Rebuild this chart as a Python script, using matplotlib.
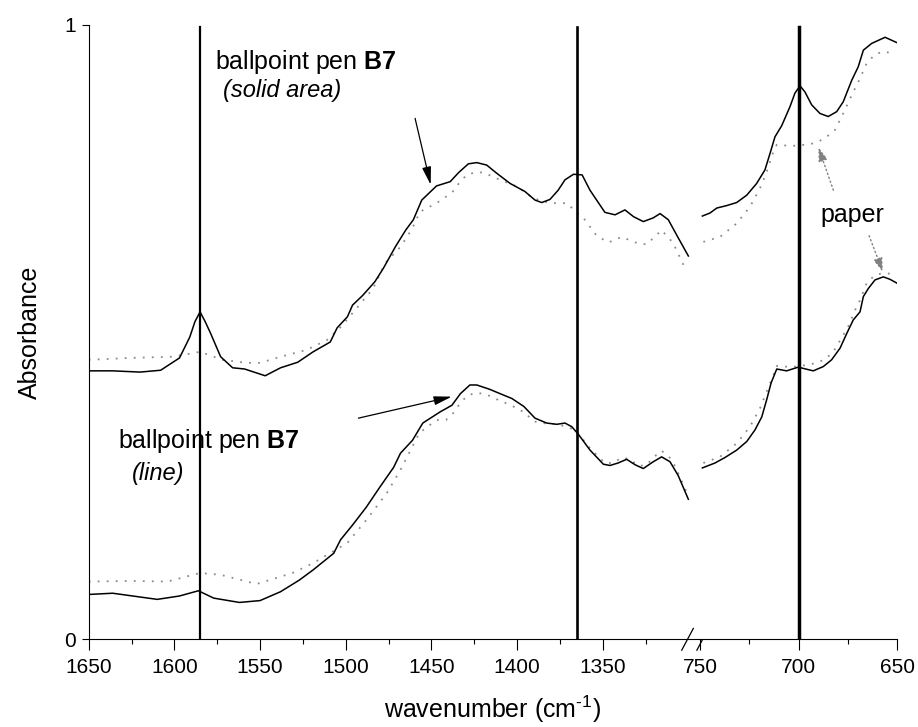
import matplotlib
matplotlib.use("Agg")
import matplotlib.pyplot as plt

plt.rcParams['font.family'] = ['Liberation Sans', 'DejaVu Sans']
plt.rcParams['mathtext.fontset'] = 'custom'
plt.rcParams['mathtext.rm'] = 'Liberation Sans'
plt.rcParams['mathtext.it'] = 'Liberation Sans:italic'
plt.rcParams['mathtext.bf'] = 'Liberation Sans:bold'
plt.rcParams['mathtext.default'] = 'regular'

# ---- data: left part of the broken axis (1650 - 1300 cm-1) ----
solid_left_wn = [1650, 1636, 1620, 1608, 1597, 1591, 1588, 1585, 1582, 1579, 1573, 1566, 1559,
                 1547, 1538, 1528, 1519, 1509, 1505, 1499, 1496, 1490, 1483, 1478, 1471,
                 1465, 1460.5, 1455.6, 1447, 1439, 1434, 1428.4, 1423.5, 1417.7, 1412, 1404,
                 1395.4, 1389.5, 1385.6, 1380.8, 1376, 1372, 1367, 1362, 1357.4, 1348.7,
                 1342.8, 1337, 1332, 1326.3, 1320.5, 1316.5, 1311.7, 1306, 1300]
solid_left_ab = [0.437, 0.437, 0.435, 0.438, 0.458, 0.492, 0.517, 0.533, 0.517, 0.499, 0.460,
                 0.442, 0.440, 0.429, 0.442, 0.451, 0.468, 0.484, 0.507, 0.525, 0.544, 0.560,
                 0.582, 0.604, 0.639, 0.666, 0.683, 0.715, 0.738, 0.745, 0.760, 0.774, 0.776,
                 0.772, 0.759, 0.742, 0.729, 0.715, 0.711, 0.716, 0.731, 0.748, 0.757, 0.756,
                 0.731, 0.695, 0.691, 0.699, 0.688, 0.680, 0.686, 0.693, 0.683, 0.654, 0.624]

solid_paper_left_wn = [1650, 1626, 1601, 1585, 1572, 1558, 1550, 1538, 1523, 1511, 1503, 1493,
                       1484, 1477, 1468, 1461.5, 1456.6, 1447, 1438, 1434, 1429.4, 1424.5,
                       1419.7, 1410, 1400, 1390.5, 1380.8, 1371, 1366, 1361, 1353.5, 1346.7,
                       1339, 1329, 1324.3, 1315.6, 1308.8, 1306, 1301.4]
solid_paper_left_ab = [0.455, 0.458, 0.460, 0.468, 0.455, 0.450, 0.450, 0.460, 0.471, 0.487,
                       0.508, 0.541, 0.571, 0.612, 0.639, 0.667, 0.696, 0.710, 0.727, 0.742,
                       0.756, 0.760, 0.760, 0.748, 0.737, 0.718, 0.710, 0.710, 0.697, 0.685,
                       0.657, 0.646, 0.655, 0.644, 0.643, 0.666, 0.645, 0.628, 0.601]

line_left_wn = [1650, 1636, 1610, 1597, 1586, 1577, 1562, 1550, 1538, 1527, 1519, 1507, 1503,
                1496, 1488, 1480, 1472, 1468, 1461, 1455, 1445, 1438, 1433, 1427.5, 1423.5,
                1416, 1410, 1403, 1396, 1389.5, 1382.7, 1376.8, 1372, 1368, 1364, 1357.4,
                1349.6, 1345.7, 1341, 1336, 1331, 1326.3, 1320.5, 1315.6, 1310.7, 1306, 1300]
line_left_ab = [0.073, 0.075, 0.065, 0.0705, 0.079, 0.067, 0.060, 0.063, 0.0775, 0.0965, 0.113,
                0.140, 0.162, 0.186, 0.215, 0.248, 0.280, 0.303, 0.324, 0.352, 0.370, 0.381,
                0.400, 0.414, 0.414, 0.407, 0.400, 0.392, 0.379, 0.360, 0.352, 0.350, 0.352,
                0.346, 0.333, 0.308, 0.285, 0.283, 0.287, 0.293, 0.284, 0.278, 0.289, 0.297,
                0.289, 0.267, 0.228]

line_paper_left_wn = [1650, 1626, 1604, 1585, 1573, 1552, 1531, 1519, 1499, 1488, 1476, 1468,
                      1457, 1447, 1441.5, 1437, 1434, 1429.4, 1424.5, 1419.7, 1414.8, 1410,
                      1405, 1400, 1395, 1390.5, 1385.6, 1376, 1366, 1357.4, 1348.7, 1343.8,
                      1338.9, 1334, 1329, 1324.3, 1320, 1315.6, 1311, 1307.8, 1303.3, 1301]
line_paper_left_ab = [0.094, 0.095, 0.094, 0.108, 0.105, 0.090, 0.108, 0.124, 0.157, 0.194,
                      0.238, 0.276, 0.336, 0.357, 0.357, 0.369, 0.381, 0.396, 0.401, 0.400,
                      0.395, 0.388, 0.383, 0.376, 0.368, 0.355, 0.352, 0.350, 0.341, 0.311,
                      0.287, 0.287, 0.296, 0.293, 0.282, 0.284, 0.297, 0.307, 0.296, 0.282,
                      0.254, 0.239]

# ---- data: right part of the broken axis (750 - 650 cm-1) ----
solid_right_wn = [748.8, 744.9, 741.5, 736.5, 731.4, 726.3, 721.3, 717.1, 714.5, 712.0, 708.6,
                  704.4, 701.9, 699.3, 696.8, 693.4, 689.2, 685.0, 680.7, 677.4, 673.1, 669.8,
                  667.2, 663.0, 656.2, 650]
solid_right_ab = [0.689, 0.694, 0.702, 0.706, 0.711, 0.723, 0.742, 0.764, 0.791, 0.818, 0.836,
                  0.867, 0.889, 0.901, 0.891, 0.870, 0.856, 0.851, 0.859, 0.875, 0.910, 0.932,
                  0.959, 0.970, 0.980, 0.971]

solid_paper_right_wn = [748.3, 739.9, 731.4, 724.7, 719.6, 716.2, 712.8, 711.1, 703.5, 694.2,
                        690.0, 685.8, 681.6, 677.4, 673.1, 668.9, 665.5, 661.3, 657.1, 652.8]
solid_paper_right_ab = [0.647, 0.655, 0.677, 0.704, 0.734, 0.761, 0.794, 0.805, 0.803, 0.806,
                        0.810, 0.818, 0.829, 0.856, 0.886, 0.913, 0.938, 0.952, 0.957, 0.954]

line_right_wn = [748.8, 742.4, 737.3, 731.4, 726.3, 722.1, 718.7, 716.2, 714.0, 711.1, 706.1,
                 700.2, 692.6, 687.5, 683.3, 679.0, 675.6, 672.3, 668.9, 667.2, 664.7, 661.3,
                 657.1, 653.7, 650.3]
line_right_ab = [0.279, 0.287, 0.296, 0.308, 0.322, 0.341, 0.362, 0.390, 0.417, 0.440, 0.437,
                 0.443, 0.437, 0.444, 0.455, 0.474, 0.498, 0.520, 0.533, 0.558, 0.571, 0.585,
                 0.590, 0.586, 0.580]

line_paper_right_wn = [748.3, 739.9, 731.4, 724.7, 719.6, 716.2, 712.8, 711.1, 703.5, 695.1,
                       690.8, 686.6, 682.4, 677.4, 674.9, 671.4, 668.9, 665.5, 661.3, 657.1,
                       652.8]
line_paper_right_ab = [0.287, 0.297, 0.319, 0.346, 0.376, 0.403, 0.430, 0.445, 0.443, 0.447,
                       0.450, 0.456, 0.468, 0.495, 0.509, 0.536, 0.552, 0.580, 0.593, 0.596,
                       0.595]

marker_lines_left = [1585, 1365]
marker_line_right = 700

left_major = [1650, 1600, 1550, 1500, 1450, 1400, 1350]
left_minor = [1625, 1575, 1525, 1475, 1425, 1375, 1325]
right_major = [750, 700, 650]
right_minor = [725, 675]

# ---- figure ----
W, H = 918, 727
fig = plt.figure(figsize=(W / 100, H / 100), dpi=100)
ax1 = fig.add_axes([88.7 / W, 87.7 / H, 611.3 / W, 614.3 / H])
ax2 = fig.add_axes([700 / W, 87.7 / H, 197.3 / W, 614.3 / H])

dot_style = dict(color='#8a8a8a', lw=1.3, linestyle=(0, (1, 4)))
ax1.plot(solid_paper_left_wn, solid_paper_left_ab, **dot_style)
ax1.plot(line_paper_left_wn, line_paper_left_ab, **dot_style)
ax1.plot(solid_left_wn, solid_left_ab, color='k', lw=1.1)
ax1.plot(line_left_wn, line_left_ab, color='k', lw=1.1)

ax2.plot(solid_paper_right_wn, solid_paper_right_ab, **dot_style)
ax2.plot(line_paper_right_wn, line_paper_right_ab, **dot_style)
ax2.plot(solid_right_wn, solid_right_ab, color='k', lw=1.1)
ax2.plot(line_right_wn, line_right_ab, color='k', lw=1.1)

ax1.axvline(marker_lines_left[0], ymax=0.996, color='k', lw=1.6)
ax1.axvline(marker_lines_left[1], ymax=0.996, color='k', lw=1.9)
ax2.axvline(marker_line_right, ymax=0.997, color='k', lw=2.5)

ax1.set_xlim(1650, 1293.2)
ax2.set_xlim(750, 650)
for ax in (ax1, ax2):
    ax.set_ylim(0, 1)
    ax.spines['top'].set_visible(False)
    ax.spines['right'].set_visible(False)
    ax.spines['bottom'].set_linewidth(0.8)
    ax.tick_params(axis='x', which='major', direction='out', length=7.7, width=0.8,
                   labelsize=15, pad=6)
    ax.tick_params(axis='x', which='minor', direction='out', length=3.6, width=0.8)
ax1.spines['left'].set_linewidth(0.8)
ax2.spines['left'].set_visible(False)
ax2.set_yticks([])

ax1.set_xticks(left_major)
ax1.set_xticks(left_minor, minor=True)
ax2.set_xticks(right_major)
ax2.set_xticks(right_minor, minor=True)
ax1.set_yticks([0, 1])
ax1.set_yticklabels(['0', '1'])
ax1.tick_params(axis='y', direction='out', length=5, width=0.8, labelsize=15, pad=4)

# axis break marks
for cx in (0.9796, 1.0044):
    ax1.plot([cx - 0.0095, cx + 0.0095], [-0.0177, 0.0177], transform=ax1.transAxes,
             color='k', lw=0.9, clip_on=False)

# labels
ax1.set_ylabel('Absorbance', fontsize=18)
ax1.yaxis.set_label_coords(-0.076, 0.5)
fig.text(493 / W, 9 / H, 'wavenumber (cm$^{\\text{-}1}$)', ha='center', va='baseline',
         fontsize=18)

# annotations
ax1.text(1576.2, 0.928, 'ballpoint pen $\\mathbf{B7}$', fontsize=18)
ax1.text(1571.8, 0.882, '(solid area)', fontsize=17, style='italic')
ax1.text(1632.7, 0.311, 'ballpoint pen $\\mathbf{B7}$', fontsize=18)
ax1.text(1624.9, 0.260, '(line)', fontsize=17, style='italic')
ax2.text(689.2, 0.680, 'paper', fontsize=18)

black_arrow = dict(arrowstyle='-|>,head_length=0.6,head_width=0.15', color='k', lw=0.9,
                   mutation_scale=18, shrinkA=0, shrinkB=0)
ax1.annotate('', xy=(1450.4, 0.740), xytext=(1459.5, 0.848), arrowprops=black_arrow)
ax1.annotate('', xy=(1438.1, 0.395), xytext=(1492.6, 0.360), arrowprops=black_arrow)

gray_arrow = dict(arrowstyle='-|>,head_length=0.6,head_width=0.2', color='#808080', lw=1.0,
                  linestyle=(0, (1, 2)), mutation_scale=14, shrinkA=0, shrinkB=0)
ax2.annotate('', xy=(690.0, 0.801), xytext=(682.4, 0.731), arrowprops=gray_arrow)
ax2.annotate('', xy=(657.3, 0.598), xytext=(664.3, 0.657), arrowprops=gray_arrow)

fig.savefig('out.png', dpi=100)
